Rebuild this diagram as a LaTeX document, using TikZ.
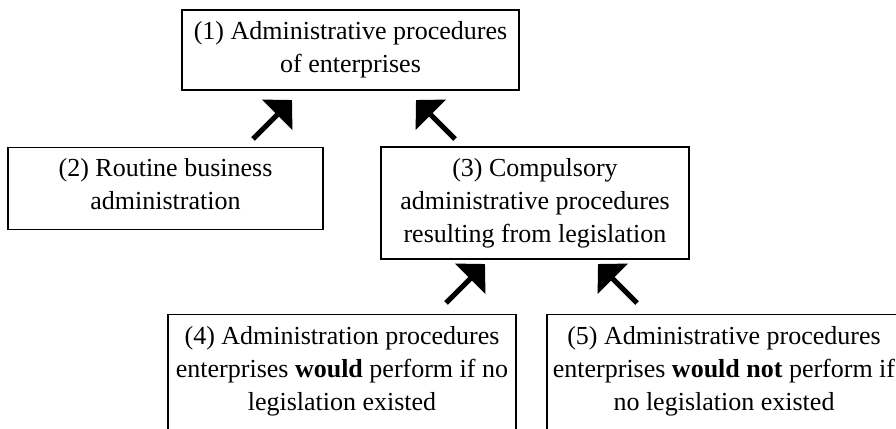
\documentclass[tikz,border=0pt]{standalone}
\usepackage{fontspec}
\setmainfont{Liberation Serif}
\usetikzlibrary{arrows.meta}

\begin{document}
\begin{tikzpicture}[x=1pt,y=-1pt,
  block/.style={draw,line width=1.3pt,inner sep=0pt,align=center,
    font=\fontsize{26pt}{33pt}\selectfont},
  openblock/.style={block,anchor=north,text height=96pt,text depth=40pt},
  up/.style={-{Triangle[length=21pt,width=42pt]},line width=5pt}]

\clip (0,0) rectangle (896,428);

\node[block,minimum width=337pt,minimum height=80pt] (box_1) at (350.5,50)
  {(1) Administrative procedures\\of enterprises};
\node[block,minimum width=315pt,text height=62pt,text depth=20pt,anchor=north]
  (box_2) at (165.5,147) {(2) Routine business\\administration};
\node[block,minimum width=308pt,minimum height=112pt] (box_3) at (535,203)
  {(3) Compulsory\\administrative procedures\\resulting from legislation};
\node[openblock,minimum width=348pt] (box_4) at (342,314)
  {(4) Administration procedures\\enterprises \textbf{would} perform if no\\legislation existed};
\node[openblock,minimum width=354pt] (box_5) at (724,314)
  {(5) Administrative procedures\\enterprises \textbf{would not} perform if\\no legislation existed};

% arrows between the levels
\coordinate (a_1) at (253,139); \coordinate (b_1) at (292,100);
\coordinate (a_2) at (455,139); \coordinate (b_2) at (416,100);
\coordinate (a_3) at (446,303); \coordinate (b_3) at (485,264);
\coordinate (a_4) at (637,303); \coordinate (b_4) at (598,264);

\draw[up] (a_1) -- (b_1);
\draw[up] (a_2) -- (b_2);
\draw[up] (a_3) -- (b_3);
\draw[up] (a_4) -- (b_4);

\end{tikzpicture}
\end{document}
